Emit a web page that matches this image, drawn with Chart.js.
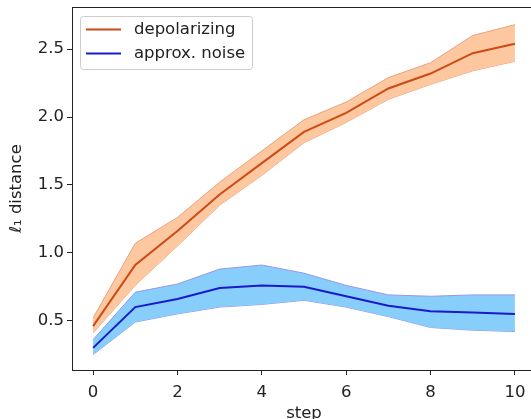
<!DOCTYPE html>
<html>
<head>
<meta charset="utf-8">
<script src="https://cdn.jsdelivr.net/npm/chart.js@4"></script>
<style>
  html, body { margin: 0; padding: 0; background: #fff; overflow: hidden; }
  #wrap { width: 540px; height: 440px; }
</style>
</head>
<body>
<div id="wrap"><canvas id="chart" width="540" height="440"></canvas></div>
<script>
const steps = [0, 1, 2, 3, 4, 5, 6, 7, 8, 9, 10];

const depolMean  = [0.46, 0.91, 1.16, 1.43, 1.66, 1.89, 2.03, 2.21, 2.32, 2.47, 2.54];
const depolUpper = [0.52, 1.07, 1.26, 1.52, 1.75, 1.98, 2.11, 2.29, 2.40, 2.60, 2.68];
const depolLower = [0.41, 0.76, 1.05, 1.35, 1.57, 1.81, 1.96, 2.13, 2.24, 2.34, 2.41];

const approxMean  = [0.30, 0.60, 0.66, 0.74, 0.76, 0.75, 0.68, 0.61, 0.57, 0.56, 0.55];
const approxUpper = [0.36, 0.71, 0.77, 0.88, 0.91, 0.85, 0.76, 0.69, 0.68, 0.69, 0.69];
const approxLower = [0.25, 0.49, 0.55, 0.60, 0.62, 0.65, 0.60, 0.53, 0.45, 0.43, 0.42];

const xTicks = [0, 2, 4, 6, 8, 10];
const yTicks = [0.5, 1.0, 1.5, 2.0, 2.5];

const FONT = "'DejaVu Sans', sans-serif";
const INK = "#222";

function pts(arr) {
    return steps.map((s, i) => ({x: s, y: arr[i]}));
}

// bands go under the mean lines (higher order = drawn first)
function band(arr, fillColor, edgeColor, fill, order) {
    return {
        label: "",
        data: pts(arr),
        borderColor: edgeColor,
        borderWidth: 1,
        backgroundColor: fillColor,
        fill: fill,
        pointRadius: 0,
        tension: 0,
        order: order
    };
}

function meanLine(label, arr, color, order) {
    return {
        label: label,
        data: pts(arr),
        borderColor: color,
        borderWidth: 2,
        backgroundColor: color,
        fill: false,
        pointRadius: 0,
        tension: 0,
        order: order
    };
}

// matplotlib-like legend box and top/right spines
const extras = {
    id: "extras",
    afterDraw(chart) {
        const ctx = chart.ctx;
        const a = chart.chartArea;
        ctx.save();
        ctx.strokeStyle = INK;
        ctx.lineWidth = 1;
        ctx.beginPath();
        ctx.moveTo(a.left, a.top + 0.5);
        ctx.lineTo(a.right, a.top + 0.5);
        ctx.lineTo(a.right, a.bottom);
        ctx.stroke();

        const items = chart.data.datasets.filter(d => d.label);
        const bx = 80.5, by = 16.5, bw = 172, bh = 53;
        ctx.fillStyle = "rgba(255,255,255,0.8)";
        ctx.strokeStyle = "#ccc";
        ctx.beginPath();
        ctx.roundRect(bx, by, bw, bh, 3);
        ctx.fill();
        ctx.stroke();

        ctx.font = "16.5px " + FONT;
        ctx.textBaseline = "middle";
        items.forEach((d, i) => {
            const y = 29.5 + i * 24;
            ctx.strokeStyle = d.borderColor;
            ctx.lineWidth = 2;
            ctx.beginPath();
            ctx.moveTo(86, y);
            ctx.lineTo(121, y);
            ctx.stroke();
            ctx.fillStyle = INK;
            ctx.fillText(d.label, 134, y);
        });
        ctx.restore();
    }
};

new Chart(document.getElementById("chart"), {
    type: "line",
    data: {
        datasets: [
            band(depolUpper, "rgba(253,200,160,1)", "rgba(232,160,130,1)", "+1", 4),
            band(depolLower, "rgba(253,200,160,1)", "rgba(232,160,130,1)", false, 5),
            meanLine("depolarizing", depolMean, "#cc4a16", 1),
            band(approxUpper, "rgba(135,206,250,1)", "rgba(150,150,235,1)", "+1", 2),
            band(approxLower, "rgba(135,206,250,1)", "rgba(150,150,235,1)", false, 3),
            meanLine("approx. noise", approxMean, "#1a1acc", 0)
        ]
    },
    options: {
        responsive: false,
        animation: false,
        layout: {padding: {top: 7, right: 4, bottom: 0, left: 0}},
        plugins: {
            legend: {display: false},
            tooltip: {enabled: false}
        },
        scales: {
            x: {
                type: "linear",
                min: -0.5,
                max: 10.5,
                afterBuildTicks: s => { s.ticks = xTicks.map(v => ({value: v})); },
                afterFit: s => { s.height = 70; s.paddingLeft = 0; s.paddingRight = 0; },
                grid: {display: true, drawOnChartArea: false, drawTicks: true, tickLength: 5, color: INK},
                border: {display: true, color: INK, width: 1},
                ticks: {color: INK, font: {family: FONT, size: 16.5}, padding: 8, maxRotation: 0},
                title: {display: true, text: "step", color: INK, font: {family: FONT, size: 16.5}, padding: {top: 0, bottom: 16}}
            },
            y: {
                type: "linear",
                min: 0.137,
                max: 2.81,
                afterBuildTicks: s => { s.ticks = yTicks.map(v => ({value: v})); },
                afterFit: s => { s.width = 72; s.paddingTop = 0; s.paddingBottom = 0; },
                grid: {display: true, drawOnChartArea: false, drawTicks: true, tickLength: 5, color: INK},
                border: {display: true, color: INK, width: 1},
                ticks: {color: INK, font: {family: FONT, size: 16.5}, padding: 3, callback: v => v.toFixed(1)},
                title: {display: true, text: "ℓ₁ distance", color: INK, font: {family: FONT, size: 16.5}, padding: {top: 7, bottom: 0}}
            }
        }
    },
    plugins: [extras]
});
</script>
</body>
</html>
